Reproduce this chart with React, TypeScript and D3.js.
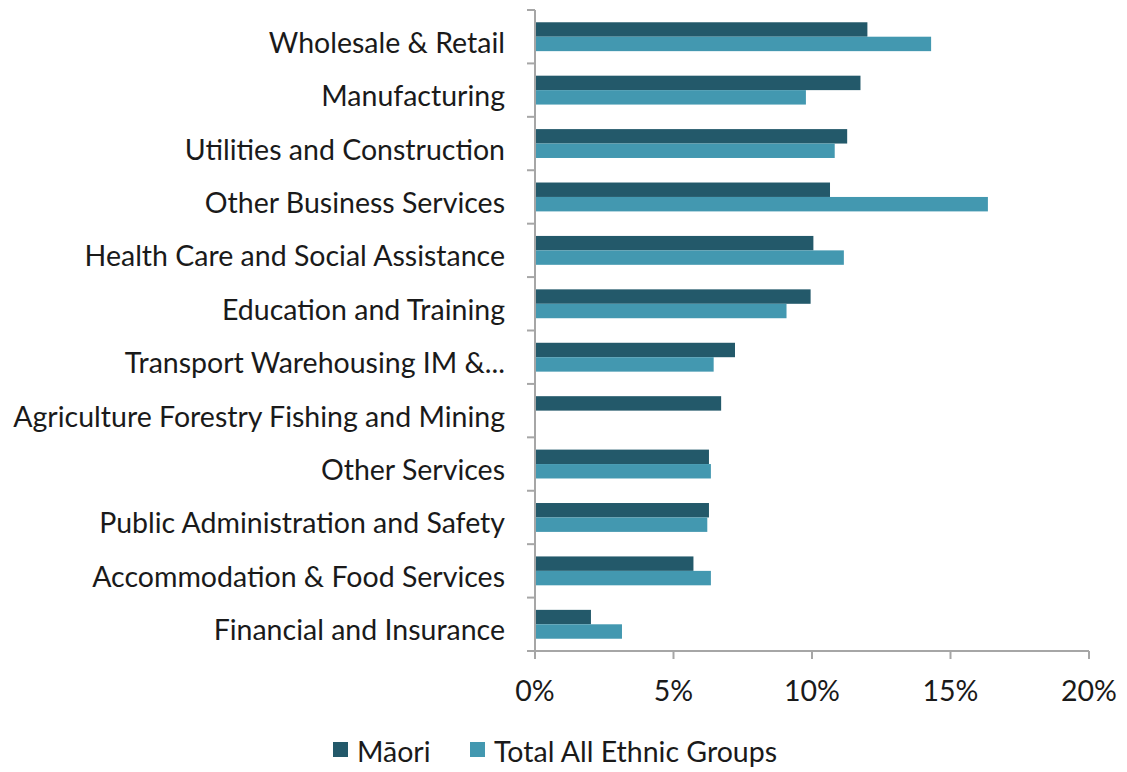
import React, { useEffect, useRef } from 'react';
import * as d3 from 'd3';

const categories = [
  'Wholesale & Retail',
  'Manufacturing',
  'Utilities and Construction',
  'Other Business Services',
  'Health Care and Social Assistance',
  'Education and Training',
  'Transport Warehousing IM &...',
  'Agriculture Forestry Fishing and Mining',
  'Other Services',
  'Public Administration and Safety',
  'Accommodation & Food Services',
  'Financial and Insurance',
];
const maori = [12.0, 11.75, 11.27, 10.65, 10.05, 9.95, 7.22, 6.72, 6.28, 6.28, 5.72, 2.02];
const total = [14.3, 9.78, 10.82, 16.35, 11.15, 9.08, 6.45, 0, 6.35, 6.22, 6.35, 3.14];
const seriesNames = ['Māori', 'Total All Ethnic Groups'];
const colors = ['#23596a', '#4398b0'];
const xTicks = [0, 5, 10, 15, 20];

export default function App() {
  const svgRef = useRef<SVGSVGElement>(null);

  useEffect(() => {
    document.body.style.margin = '0';
    if (!svgRef.current) return;
    const width = 1127;
    const height = 772;
    const font = 'Lato, "Open Sans", sans-serif';
    const fs = '28.5px';

    d3.select(svgRef.current).selectAll('*').remove();
    const svg = d3.select(svgRef.current).attr('width', width).attr('height', height);

    const x = d3.scaleLinear().domain([0, 20]).range([535, 1089]);
    const y = d3.scaleBand().domain(categories).range([10, 651]);
    const inner = d3.scaleBand().domain(seriesNames).range([0, y.bandwidth()]).paddingOuter(0.85).paddingInner(0);

    const rows = categories.map((c, i) => ({ c, vals: [maori[i], total[i]] }));

    const g = svg.selectAll('g.row').data(rows).enter().append('g')
      .attr('transform', d => `translate(0,${y(d.c)})`);
    g.selectAll('rect')
      .data(d => d.vals.map((v, k) => ({ v, k })))
      .enter().append('rect')
      .attr('x', x(0))
      .attr('y', d => inner(seriesNames[d.k])!)
      .attr('width', d => x(d.v) - x(0))
      .attr('height', inner.bandwidth())
      .attr('fill', d => colors[d.k]);

    // axes
    const axisColor = '#a6a6a6';
    const yTickPos = categories.map(c => y(c)!).concat([651]);
    svg.append('line').attr('x1', x(0)).attr('x2', x(0)).attr('y1', 10).attr('y2', 651)
      .attr('stroke', axisColor).attr('stroke-width', 2);
    svg.selectAll('line.yt').data(yTickPos).enter().append('line')
      .attr('x1', x(0) - 8).attr('x2', x(0)).attr('y1', d => d).attr('y2', d => d)
      .attr('stroke', axisColor).attr('stroke-width', 2);
    svg.append('line').attr('x1', x(0)).attr('x2', x(20)).attr('y1', 651).attr('y2', 651)
      .attr('stroke', axisColor).attr('stroke-width', 2);
    svg.selectAll('line.xt').data(xTicks).enter().append('line')
      .attr('x1', d => x(d)).attr('x2', d => x(d)).attr('y1', 651).attr('y2', 659)
      .attr('stroke', axisColor).attr('stroke-width', 2);

    svg.selectAll('text.xl').data(xTicks).enter().append('text')
      .attr('x', d => x(d)).attr('y', 701)
      .attr('text-anchor', 'middle')
      .style('font-family', font).style('font-size', fs).style('fill', '#1a1a1a')
      .text(d => `${d}%`);

    svg.selectAll('text.yl').data(categories).enter().append('text')
      .attr('x', 505).attr('y', d => y(d)! + y.bandwidth() / 2 + 16)
      .attr('text-anchor', 'end')
      .style('font-family', font).style('font-size', fs).style('fill', '#1a1a1a')
      .text(d => d);

    // legend
    const legendX = [333, 470];
    const lg = svg.selectAll('g.lg').data(seriesNames).enter().append('g')
      .attr('transform', (d, i) => `translate(${legendX[i]},742)`);
    lg.append('rect').attr('width', 15).attr('height', 15).attr('fill', (d, i) => colors[i]);
    lg.append('text').attr('x', 24).attr('y', 20)
      .style('font-family', font).style('font-size', fs).style('fill', '#1a1a1a')
      .text(d => d);
  }, []);

  return <svg ref={svgRef}></svg>;
}
